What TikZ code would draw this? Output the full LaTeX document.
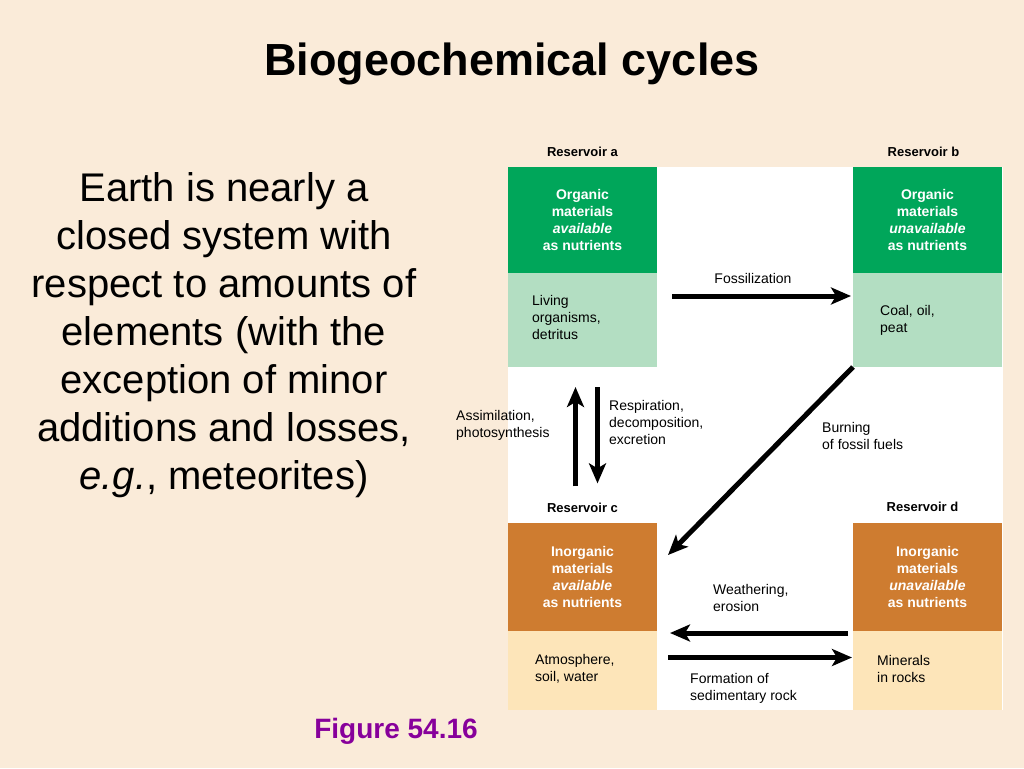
\documentclass[tikz,border=0pt]{standalone}
\usepackage{fontspec}
\setmainfont{Liberation Sans}
\usetikzlibrary{positioning,arrows.meta}
\definecolor{bg}{RGB}{250,235,217}
\definecolor{grn}{RGB}{0,166,90}
\definecolor{ltgrn}{RGB}{179,222,194}
\definecolor{org}{RGB}{206,124,48}
\definecolor{ltorg}{RGB}{253,229,185}
\definecolor{fig}{RGB}{135,0,155}
\begin{document}
\begin{tikzpicture}
        [x=1pt,y=-1pt,
         hd/.style={rectangle,inner sep=0pt,outer sep=0pt,minimum width=149pt,text=white,align=center,font=\fontsize{14}{17}\selectfont\bfseries},
         lo/.style={rectangle,inner sep=0pt,outer sep=0pt,minimum width=149pt},
         res/.style={font=\fontsize{13}{16}\selectfont\bfseries},
         lbl/.style={inner sep=0pt,anchor=north west,align=left,font=\fontsize{14}{17}\selectfont},
         flow/.style={line width=5pt,-{Stealth[length=20pt,width=17pt,inset=5pt]}}]
        \fill[bg] (0,0) rectangle (1024,768);
        \useasboundingbox (0,0) rectangle (1024,768);
        \fill[white] (508,167) rectangle (1003,710);
        \node[font=\fontsize{45}{50}\selectfont\bfseries](title) at (512,64){Biogeochemical cycles};
        \node[align=center,font=\fontsize{40}{48}\selectfont](intro) at (224,335){Earth is nearly a\\closed system with\\respect to amounts of\\elements (with the\\exception of minor\\additions and losses,\\\textit{e.g.}, meteorites)};
        \node[text=fig,font=\fontsize{28}{32}\selectfont\bfseries](figno) at (396,731){Figure 54.16};
        \node[hd,fill=grn,minimum height=106pt,anchor=north west](orgA) at (508,167){Organic\\materials\\\textit{available}\\as nutrients};
        \node[lo,fill=ltgrn,minimum height=94pt](livA)[below =0pt of orgA]{};
        \node[hd,fill=grn,minimum height=106pt,anchor=north west](orgB) at (853,167){Organic\\materials\\\textit{unavailable}\\as nutrients};
        \node[lo,fill=ltgrn,minimum height=94pt](coalB)[below =0pt of orgB]{};
        \node[hd,fill=org,minimum height=108pt,anchor=north west](inC) at (508,523){Inorganic\\materials\\\textit{available}\\as nutrients};
        \node[lo,fill=ltorg,minimum height=79pt](atmC)[below =0pt of inC]{};
        \node[hd,fill=org,minimum height=108pt,anchor=north west](inD) at (853,523){Inorganic\\materials\\\textit{unavailable}\\as nutrients};
        \node[lo,fill=ltorg,minimum height=79pt](rockD)[below =0pt of inD]{};
        \node[res](resA)[above =7pt of orgA]{Reservoir a};
        \node[res](resB)[above =7pt of orgB,xshift=-4pt]{Reservoir b};
        \node[res](resC)[above =7pt of inC]{Reservoir c};
        \node[res](resD)[above =8pt of inD,xshift=-5pt]{Reservoir d};
        \node[lbl](livT) at ([xshift=24pt,yshift=-22pt]livA.north west){Living\\organisms,\\detritus};
        \node[lbl](coalT) at ([xshift=27pt,yshift=-32pt]coalB.north west){Coal, oil,\\peat};
        \node[lbl](atmT) at ([xshift=27pt,yshift=-23pt]atmC.north west){Atmosphere,\\soil, water};
        \node[lbl](rockT) at ([xshift=24pt,yshift=-24pt]rockD.north west){Minerals\\in rocks};
        \node[lbl,anchor=center](fosL) at (753,278){Fossilization};
        \node[lbl](burnL) at (822,422){Burning\\of fossil fuels};
        \node[lbl](assL) at (456,410){Assimilation,\\photosynthesis};
        \node[lbl](respL) at (609,400){Respiration,\\decomposition,\\excretion};
        \node[lbl](weaL) at (713,584){Weathering,\\erosion};
        \node[lbl](forL) at (690,673){Formation of\\sedimentary rock};
        \draw[flow] ([xshift=15pt,yshift=24pt]livA.east) -- ([xshift=-2pt,yshift=24pt]coalB.west);
        \draw[flow] (coalB.south west) -- ([xshift=11pt,yshift=22pt]inC.east);
        \draw[flow] ([xshift=-7pt,yshift=13pt]resC.north) -- ([xshift=-7pt,yshift=-20pt]livA.south);
        \draw[flow] ([xshift=15pt,yshift=-20pt]livA.south) -- ([xshift=15pt,yshift=16pt]resC.north);
        \draw[flow] ([xshift=-5pt,yshift=-2pt]rockD.north west) -- ([xshift=13pt,yshift=-2pt]atmC.north east);
        \draw[flow] ([xshift=11pt,yshift=13pt]atmC.east) -- ([xshift=-1pt,yshift=13pt]rockD.west);
\end{tikzpicture}
\end{document}
